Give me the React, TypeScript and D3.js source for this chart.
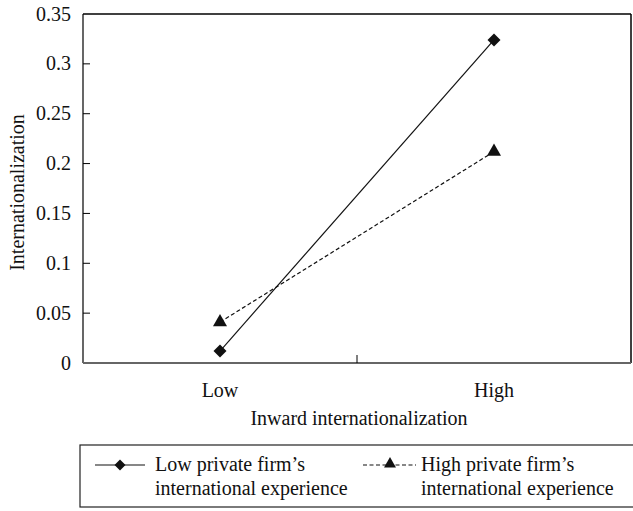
import React from "react";
import * as d3 from "d3";

const categories = ["Low", "High"];
const lowExperience = [0.012, 0.324];
const highExperience = [0.041, 0.212];
const yTicks = [0, 0.05, 0.1, 0.15, 0.2, 0.25, 0.3, 0.35];
const yTickLabels = ["0", "0.05", "0.1", "0.15", "0.2", "0.25", "0.3", "0.35"];
const seriesNames = [
  ["Low private firm\u2019s", "international experience"],
  ["High private firm\u2019s", "international experience"],
];

const W = 633;
const H = 511;
const left = 83;
const right = 631;
const top = 14;
const bottom = 363;
const font = "'Liberation Serif', 'Times New Roman', serif";
const FS = 20;

export default function App() {
  const x = d3.scaleBand<string>().domain(categories).range([left, right]);
  const y = d3.scaleLinear().domain([0, 0.35]).range([bottom, top]);
  const cx = (c: string) => (x(c) as number) + x.bandwidth() / 2;
  const line = d3
    .line<number>()
    .x((_, i) => cx(categories[i]))
    .y((d) => y(d));
  const diamond = "M0,-6.5L6.5,0L0,6.5L-6.5,0Z";
  const triangle = d3.symbol(d3.symbolTriangle, 85)() as string;

  return (
    <svg
      width={W}
      height={H}
      style={{ position: "absolute", left: 0, top: 0, background: "#fff" }}
      fontFamily={font}
    >
      {/* plot frame */}
      <line x1={left} x2={right} y1={top} y2={top} stroke="#000" strokeWidth={1.5} />
      <line x1={right} x2={right} y1={top} y2={bottom} stroke="#000" strokeWidth={1.5} />
      <line x1={left} x2={left} y1={top} y2={bottom} stroke="#000" strokeWidth={1.2} />
      <line x1={left} x2={right} y1={bottom} y2={bottom} stroke="#666" strokeWidth={2} />

      {/* y ticks */}
      {yTicks.map((t, i) => (
        <g key={t}>
          {t > 0 && t < 0.35 && (
            <line x1={left} x2={left + 7} y1={y(t)} y2={y(t)} stroke="#000" strokeWidth={1} />
          )}
          <text x={left - 12} y={y(t)} dy="0.33em" textAnchor="end" fontSize={FS} fill="#111">
            {yTickLabels[i]}
          </text>
        </g>
      ))}

      {/* x middle tick */}
      <line
        x1={(left + right) / 2}
        x2={(left + right) / 2}
        y1={bottom}
        y2={bottom - 8}
        stroke="#000"
        strokeWidth={1}
      />
      {categories.map((c) => (
        <text key={c} x={cx(c)} y={397} textAnchor="middle" fontSize={FS} fill="#111">
          {c}
        </text>
      ))}
      <text x={(left + right) / 2 + 2} y={425} textAnchor="middle" fontSize={FS} fill="#111">
        Inward internationalization
      </text>
      <text
        transform={`translate(24, ${(top + bottom) / 2 + 4}) rotate(-90)`}
        textAnchor="middle"
        fontSize={FS}
        fill="#111"
      >
        Internationalization
      </text>

      {/* series */}
      <path d={line(lowExperience) as string} fill="none" stroke="#111" strokeWidth={1.2} />
      <path
        d={line(highExperience) as string}
        fill="none"
        stroke="#111"
        strokeWidth={1.2}
        strokeDasharray="4,2.5"
      />
      {lowExperience.map((v, i) => (
        <path key={"d" + i} d={diamond} transform={`translate(${cx(categories[i])},${y(v)})`} fill="#111" />
      ))}
      {highExperience.map((v, i) => (
        <path key={"t" + i} d={triangle} transform={`translate(${cx(categories[i])},${y(v)})`} fill="#111" />
      ))}

      {/* legend */}
      <rect x={80} y={445} width={600} height={62} fill="none" stroke="#222" strokeWidth={1.2} />
      <line x1={95} x2={145} y1={465} y2={465} stroke="#111" strokeWidth={1.2} />
      <path d={diamond} transform="translate(120,465) scale(0.85)" fill="#111" />
      <text x={155} y={471} fontSize={FS} fill="#111">{seriesNames[0][0]}</text>
      <text x={155} y={495} fontSize={FS} fill="#111">{seriesNames[0][1]}</text>
      <line x1={363} x2={416} y1={465} y2={465} stroke="#111" strokeWidth={1.2} strokeDasharray="4,2.5" />
      <path d={triangle} transform="translate(390,464) scale(0.85)" fill="#111" />
      <text x={421} y={471} fontSize={FS} fill="#111">{seriesNames[1][0]}</text>
      <text x={421} y={495} fontSize={FS} fill="#111">{seriesNames[1][1]}</text>
    </svg>
  );
}
